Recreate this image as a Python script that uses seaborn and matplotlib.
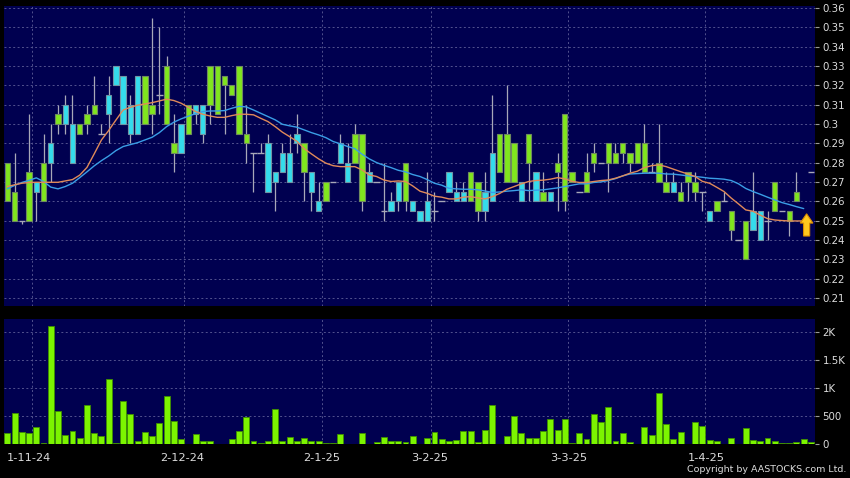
import numpy as np
import pandas as pd
import matplotlib
matplotlib.use("Agg")
import matplotlib.pyplot as plt
from matplotlib.patches import FancyArrow
import seaborn as sns

# ---------------- data ----------------
opens = [0.26, 0.25, 0.25, 0.25, 0.27, 0.26, 0.29, 0.30, 0.31, 0.30,
         0.295, 0.30, 0.305, 0.295, 0.315, 0.33, 0.325, 0.31, 0.325, 0.30,
         0.305, 0.315, 0.30, 0.285, 0.30, 0.295, 0.31, 0.31, 0.31, 0.305,
         0.32, 0.315, 0.295, 0.29, 0.285, 0.285, 0.29, 0.275, 0.285, 0.285,
         0.295, 0.275, 0.275, 0.26, 0.26, 0.27, 0.29, 0.28, 0.28, 0.26,
         0.275, 0.27, 0.255, 0.26, 0.27, 0.26, 0.26, 0.255, 0.26, 0.255,
         0.26, 0.275, 0.265, 0.265, 0.26, 0.255, 0.265, 0.285, 0.275, 0.27,
         0.27, 0.27, 0.28, 0.275, 0.26, 0.265, 0.275, 0.26, 0.27, 0.265,
         0.265, 0.28, 0.28, 0.28, 0.28, 0.285, 0.28, 0.28, 0.275, 0.275,
         0.27, 0.265, 0.27, 0.26, 0.27, 0.265, 0.265, 0.255, 0.255, 0.26,
         0.245, 0.24, 0.23, 0.255, 0.255, 0.25, 0.255, 0.255, 0.25, 0.26,
         0.25, 0.275]
closes = [0.28, 0.265, 0.25, 0.275, 0.265, 0.28, 0.28, 0.305, 0.30, 0.28,
          0.30, 0.305, 0.31, 0.295, 0.305, 0.32, 0.30, 0.295, 0.295, 0.325,
          0.31, 0.315, 0.33, 0.29, 0.285, 0.31, 0.305, 0.295, 0.33, 0.33,
          0.325, 0.32, 0.33, 0.295, 0.285, 0.285, 0.265, 0.27, 0.275, 0.27,
          0.29, 0.29, 0.265, 0.255, 0.27, 0.27, 0.28, 0.27, 0.295, 0.295,
          0.27, 0.27, 0.255, 0.255, 0.26, 0.28, 0.255, 0.25, 0.25, 0.255,
          0.26, 0.265, 0.26, 0.26, 0.275, 0.27, 0.255, 0.26, 0.295, 0.295,
          0.29, 0.26, 0.295, 0.26, 0.265, 0.26, 0.28, 0.305, 0.275, 0.265,
          0.275, 0.285, 0.28, 0.29, 0.285, 0.29, 0.285, 0.29, 0.29, 0.275,
          0.28, 0.27, 0.265, 0.265, 0.275, 0.27, 0.265, 0.25, 0.26, 0.26,
          0.255, 0.24, 0.25, 0.245, 0.24, 0.25, 0.27, 0.255, 0.255, 0.265,
          0.25, 0.275]
highs = [0.28, 0.285, 0.25, 0.305, 0.27, 0.295, 0.30, 0.31, 0.315, 0.315,
         0.30, 0.31, 0.325, 0.30, 0.325, 0.33, 0.325, 0.315, 0.325, 0.325,
         0.355, 0.35, 0.335, 0.305, 0.30, 0.31, 0.31, 0.31, 0.33, 0.33,
         0.325, 0.32, 0.33, 0.31, 0.285, 0.29, 0.295, 0.275, 0.29, 0.295,
         0.305, 0.29, 0.275, 0.27, 0.27, 0.27, 0.295, 0.29, 0.30, 0.295,
         0.28, 0.27, 0.28, 0.265, 0.27, 0.28, 0.26, 0.255, 0.275, 0.265,
         0.26, 0.275, 0.27, 0.27, 0.275, 0.27, 0.275, 0.315, 0.295, 0.32,
         0.29, 0.27, 0.295, 0.275, 0.275, 0.265, 0.285, 0.305, 0.275, 0.265,
         0.285, 0.29, 0.28, 0.29, 0.29, 0.29, 0.285, 0.29, 0.30, 0.28,
         0.30, 0.275, 0.275, 0.27, 0.275, 0.275, 0.265, 0.255, 0.26, 0.265,
         0.255, 0.24, 0.25, 0.275, 0.255, 0.255, 0.27, 0.255, 0.255, 0.275,
         0.25, 0.275]
lows = [0.26, 0.25, 0.248, 0.25, 0.25, 0.26, 0.27, 0.295, 0.295, 0.28,
        0.295, 0.295, 0.305, 0.295, 0.29, 0.32, 0.30, 0.29, 0.295, 0.30,
        0.295, 0.305, 0.30, 0.275, 0.285, 0.295, 0.30, 0.29, 0.30, 0.305,
        0.295, 0.315, 0.295, 0.28, 0.265, 0.285, 0.265, 0.255, 0.275, 0.27,
        0.285, 0.26, 0.255, 0.255, 0.26, 0.27, 0.28, 0.27, 0.28, 0.255,
        0.27, 0.27, 0.25, 0.255, 0.255, 0.255, 0.255, 0.25, 0.25, 0.25,
        0.26, 0.265, 0.26, 0.26, 0.26, 0.25, 0.25, 0.26, 0.275, 0.27,
        0.27, 0.26, 0.26, 0.26, 0.26, 0.26, 0.255, 0.255, 0.27, 0.265,
        0.265, 0.275, 0.28, 0.265, 0.28, 0.28, 0.275, 0.28, 0.275, 0.275,
        0.27, 0.265, 0.265, 0.26, 0.26, 0.26, 0.255, 0.25, 0.255, 0.26,
        0.24, 0.24, 0.23, 0.245, 0.24, 0.24, 0.255, 0.255, 0.242, 0.26,
        0.25, 0.275]
volume = [202, 560, 214, 190, 298, 20, 2107, 583, 167, 226,
          113, 702, 196, 149, 1161, 10, 762, 542, 60, 220,
          143, 375, 857, 411, 95, 3, 179, 54, 54, 5,
          8, 95, 238, 482, 60, 10, 54, 625, 54, 125,
          48, 113, 54, 54, 12, 24, 173, 8, 8, 190,
          5, 30, 131, 54, 60, 42, 137, 3, 107, 220,
          95, 54, 77, 238, 238, 36, 250, 696, 3, 143,
          500, 202, 113, 101, 238, 446, 244, 446, 10, 202,
          95, 530, 399, 667, 60, 190, 36, 3, 310, 167,
          917, 363, 95, 220, 3, 387, 327, 71, 54, 3,
          113, 3, 280, 77, 48, 101, 54, 15, 24, 42,
          95, 42]
ma_fast = [0.2676, 0.2685, 0.2693, 0.2697, 0.2698, 0.2698, 0.2698, 0.2698, 0.2705, 0.2712,
           0.2735, 0.2775, 0.2845, 0.2917, 0.2966, 0.3020, 0.3072, 0.3086, 0.3097, 0.3103,
           0.3110, 0.3119, 0.3128, 0.3121, 0.3107, 0.3086, 0.3064, 0.3050, 0.3041, 0.3034,
           0.3034, 0.3043, 0.3050, 0.3050, 0.3047, 0.3029, 0.3012, 0.2986, 0.2957, 0.2934,
           0.2910, 0.2872, 0.2845, 0.2819, 0.2797, 0.2784, 0.2779, 0.2779, 0.2779, 0.2762,
           0.2736, 0.2728, 0.2710, 0.2702, 0.2705, 0.2702, 0.2679, 0.2652, 0.2641, 0.2626,
           0.2621, 0.2612, 0.2612, 0.2621, 0.2624, 0.2617, 0.2612, 0.2624, 0.2640, 0.2662,
           0.2676, 0.2690, 0.2702, 0.2707, 0.2709, 0.2714, 0.2722, 0.2716, 0.2703, 0.2697,
           0.2697, 0.2702, 0.2707, 0.2710, 0.2719, 0.2731, 0.2745, 0.2755, 0.2774, 0.2784,
           0.2788, 0.2779, 0.2766, 0.2753, 0.2741, 0.2728, 0.2703, 0.2693, 0.2672, 0.2650,
           0.2616, 0.2586, 0.2555, 0.2548, 0.2528, 0.2510, 0.2503, 0.2500, 0.2498, 0.2498,
           0.2498]
ma_slow = [0.2664, 0.2682, 0.2697, 0.2708, 0.2721, 0.2702, 0.2673, 0.2664, 0.2676, 0.2693,
           0.2722, 0.2752, 0.2783, 0.2810, 0.2834, 0.2862, 0.2883, 0.2893, 0.2903, 0.2917,
           0.2931, 0.2955, 0.2986, 0.3009, 0.3026, 0.3040, 0.3053, 0.3064, 0.3067, 0.3067,
           0.3069, 0.3081, 0.3091, 0.3088, 0.3072, 0.3055, 0.3038, 0.3021, 0.2998, 0.2990,
           0.2983, 0.2969, 0.2955, 0.2943, 0.2929, 0.2909, 0.2897, 0.2883, 0.2872, 0.2843,
           0.2819, 0.2800, 0.2786, 0.2774, 0.2760, 0.2752, 0.2738, 0.2728, 0.2712, 0.2693,
           0.2683, 0.2667, 0.2664, 0.2662, 0.2662, 0.2659, 0.2653, 0.2645, 0.2648, 0.2652,
           0.2655, 0.2659, 0.2655, 0.2657, 0.2659, 0.2664, 0.2669, 0.2676, 0.2683, 0.2690,
           0.2690, 0.2697, 0.2700, 0.2707, 0.2717, 0.2731, 0.2741, 0.2743, 0.2745, 0.2745,
           0.2745, 0.2741, 0.2740, 0.2736, 0.2731, 0.2728, 0.2724, 0.2719, 0.2717, 0.2714,
           0.2707, 0.2690, 0.2666, 0.2650, 0.2636, 0.2621, 0.2607, 0.2593, 0.2583, 0.2572,
           0.2562]
date_labels = ["1-11-24", "2-12-24", "2-1-25", "3-2-25", "3-3-25", "1-4-25"]
date_pos = [3.0, 24.2, 43.4, 58.4, 77.6, 96.6]
grid_pos = [3.45, 24.45, 43.5, 58.5, 77.5, 96.4]
price_ticks = [0.21, 0.22, 0.23, 0.24, 0.25, 0.26, 0.27, 0.28, 0.29, 0.30,
               0.31, 0.32, 0.33, 0.34, 0.35, 0.36]
vol_ticks = [0, 500, 1000, 1500, 2000]
vol_tick_labels = ["0", "500", "1K", "1.5K", "2K"]
arrow_pos = 110.4
arrow_low, arrow_high = 0.242, 0.2535

# ---------------- styling ----------------
sns.set_style("dark")
plt.rcParams["font.family"] = ["DejaVu Sans"]
BG = "#000050"
GRID = "#52528e"
GREEN = "#80e61e"
CYAN = "#34dcec"
WICK = "#a8a8b8"
TXT = "#dcdcdc"

df = pd.DataFrame({"open": opens, "close": closes, "high": highs, "low": lows,
                   "volume": volume})
df["idx"] = np.arange(len(df))
mdf = pd.DataFrame({"idx": np.arange(len(ma_fast)), "fast": ma_fast, "slow": ma_slow})

fig = plt.figure(figsize=(8.5, 4.78), dpi=100, facecolor="black")
W, H = 850.0, 478.0
ax = fig.add_axes([4 / W, 1 - 306 / H, 811 / W, 300 / H])
axv = fig.add_axes([4 / W, 1 - 444 / H, 811 / W, 125 / H])

for a in (ax, axv):
    a.set_facecolor(BG)
    for s in a.spines.values():
        s.set_visible(False)

# ---------- price panel ----------
ax.vlines(df["idx"], df["low"], df["high"], color=WICK, linewidth=0.9, zorder=2)
up = df[df["close"] > df["open"]]
dn = df[df["close"] < df["open"]]
dj = df[df["close"] == df["open"]]
ax.bar(up["idx"], up["close"] - up["open"], bottom=up["open"], width=0.74,
       color=GREEN, edgecolor="#6f8a60", linewidth=0.8, zorder=3)
ax.bar(dn["idx"], dn["open"] - dn["close"], bottom=dn["close"], width=0.74,
       color=CYAN, edgecolor="#7095a5", linewidth=0.8, zorder=3)
ax.hlines(dj["open"], dj["idx"] - 0.45, dj["idx"] + 0.45, color=WICK,
          linewidth=1.0, zorder=3)

sns.lineplot(data=mdf, x="idx", y="slow", ax=ax, color="#3a9ee6", linewidth=1.0, zorder=4)
sns.lineplot(data=mdf, x="idx", y="fast", ax=ax, color="#e08a5a", linewidth=1.0, zorder=4)

ax.add_patch(FancyArrow(arrow_pos, arrow_low, 0, arrow_high - arrow_low, width=0.85,
                        head_width=1.75, head_length=0.0048, length_includes_head=True,
                        facecolor="#ffc81e", edgecolor="#d88a00", linewidth=0.8, zorder=6))

ax.set_xlim(-0.46, 111.56)
ax.set_ylim(0.2058, 0.361)
ax.set_xlabel("")
ax.set_ylabel("")
ax.set_xticks(date_pos)
ax.set_xticklabels([])
ax.set_xticks(grid_pos, minor=True)
ax.tick_params(axis="x", which="both", length=0)
ax.yaxis.tick_right()
ax.set_yticks(price_ticks)
ax.set_yticklabels([f"{round(v, 2):g}" for v in price_ticks])
ax.tick_params(axis="y", colors="#9a9a9a", labelcolor=TXT, labelsize=7.4,
               length=3, width=0.8, pad=2.5, direction="out")
ax.grid(False)
ax.grid(True, axis="y", which="major", color=GRID, linestyle=(0, (2.0, 2.5)), linewidth=0.7)
ax.grid(True, axis="x", which="minor", color=GRID, linestyle=(0, (2.0, 2.5)), linewidth=0.7)

# ---------- volume panel ----------
axv.bar(df["idx"], df["volume"], width=0.82, color="#7cf400", edgecolor="#3f8f00",
        linewidth=0.6, zorder=3)
axv.set_xlim(-0.46, 111.56)
axv.set_ylim(0, 2232)
axv.yaxis.tick_right()
axv.set_yticks(vol_ticks)
axv.set_yticklabels(vol_tick_labels)
axv.tick_params(axis="y", colors="#9a9a9a", labelcolor=TXT, labelsize=7.4,
                length=3, width=0.8, pad=2.5, direction="out")
axv.set_xticks(date_pos)
axv.set_xticklabels(date_labels)
axv.set_xticks(grid_pos, minor=True)
axv.tick_params(axis="x", which="major", colors="#b0b0b0", labelcolor=TXT,
                labelsize=8.2, length=3, width=0.8, pad=3.5, direction="out")
axv.tick_params(axis="x", which="minor", length=0)
axv.grid(False)
axv.grid(True, axis="y", which="major", color=GRID, linestyle=(0, (2.0, 2.5)), linewidth=0.7)
axv.grid(True, axis="x", which="minor", color=GRID, linestyle=(0, (2.0, 2.5)), linewidth=0.7)
axv.set_axisbelow(True)

fig.text(846 / W, 1 - 470 / H, "Copyright by AASTOCKS.com Ltd.", color=TXT,
         fontsize=6.8, ha="right", va="center")

fig.savefig("out.png", dpi=100, facecolor="black")
